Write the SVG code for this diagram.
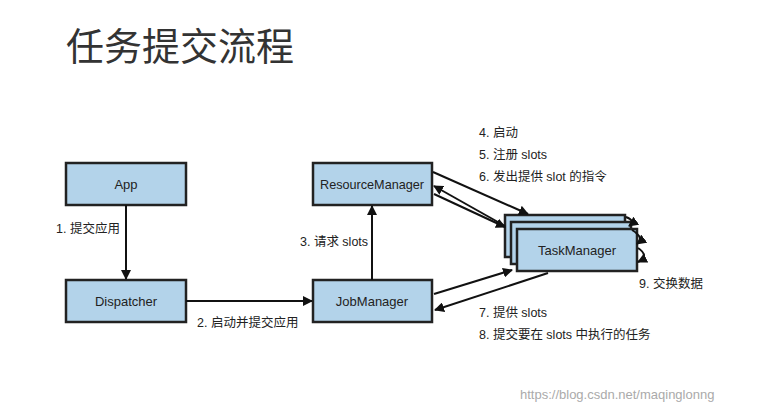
<svg xmlns="http://www.w3.org/2000/svg" width="766" height="410" viewBox="0 0 766 410">
<style>
.box{fill:#b3d3ea;stroke:#222;stroke-width:2.5}
.nt{font-family:"Liberation Sans","Noto Sans CJK SC",sans-serif;font-size:13px;fill:#222;text-anchor:middle}
.lb{font-family:"Liberation Sans","Noto Sans CJK SC",sans-serif;font-size:12.5px;fill:#222}
.ln{stroke:#111;stroke-width:2;fill:none;marker-end:url(#ah)}
</style>
<defs><marker id="ah" markerWidth="10" markerHeight="10" refX="9" refY="5" orient="auto" markerUnits="userSpaceOnUse"><path d="M0,0 L10,5 L0,10 z" fill="#111"/></marker></defs>
<rect width="766" height="410" fill="#fff"/>
<text x="66" y="60" font-family="Noto Sans CJK SC,sans-serif" font-size="38" fill="#333">任务提交流程</text>
<g id="app"><rect class="box" x="66" y="163" width="120" height="42"/><text class="nt" x="126" y="189">App</text></g>
<g id="dispatcher"><rect class="box" x="66" y="280" width="120" height="42"/><text class="nt" x="126" y="306">Dispatcher</text></g>
<g id="rm"><rect class="box" x="313" y="163" width="119" height="42"/><text class="nt" x="372" y="189" textLength="104" lengthAdjust="spacingAndGlyphs">ResourceManager</text></g>
<g id="jm"><rect class="box" x="313" y="280" width="119" height="42"/><text class="nt" x="372" y="306">JobManager</text></g>
<g id="tm"><rect class="box" x="505" y="215" width="120" height="42"/><rect class="box" x="511" y="222" width="120" height="42"/><rect class="box" x="517" y="229" width="120" height="42"/><text class="nt" x="577" y="255">TaskManager</text></g>
<g id="connectors">
<line class="ln" x1="126" y1="205" x2="126" y2="279"/>
<line class="ln" x1="186" y1="301" x2="312" y2="301"/>
<line class="ln" x1="372" y1="280" x2="372" y2="206"/>
<line class="ln" x1="433" y1="172" x2="528" y2="214"/>
<line class="ln" x1="505" y1="226" x2="434" y2="186"/>
<line class="ln" x1="434" y1="194" x2="505" y2="227"/>
<line class="ln" x1="434" y1="294" x2="512" y2="270"/>
<line class="ln" x1="548" y1="273" x2="435" y2="310"/>
<path class="ln" d="M626,217 Q636,221 629,226"/>
<path class="ln" d="M632,230 Q645,238 637,244"/>
<path class="ln" d="M638,248 Q650,256 638,262"/>
</g>
<text class="lb" x="56" y="233">1. 提交应用</text>
<text class="lb" x="197" y="327">2. 启动并提交应用</text>
<text class="lb" x="300" y="246">3. 请求 slots</text>
<text class="lb" x="479" y="137">4. 启动</text>
<text class="lb" x="479" y="159">5. 注册 slots</text>
<text class="lb" x="479" y="181">6. 发出提供 slot 的指令</text>
<text class="lb" x="639" y="288">9. 交换数据</text>
<text class="lb" x="479" y="317">7. 提供 slots</text>
<text class="lb" x="479" y="339">8. 提交要在 slots 中执行的任务</text>
<text x="520" y="399" font-family="Liberation Sans,sans-serif" font-size="13" fill="#aaa">https://blog.csdn.net/maqinglonng</text>
</svg>
